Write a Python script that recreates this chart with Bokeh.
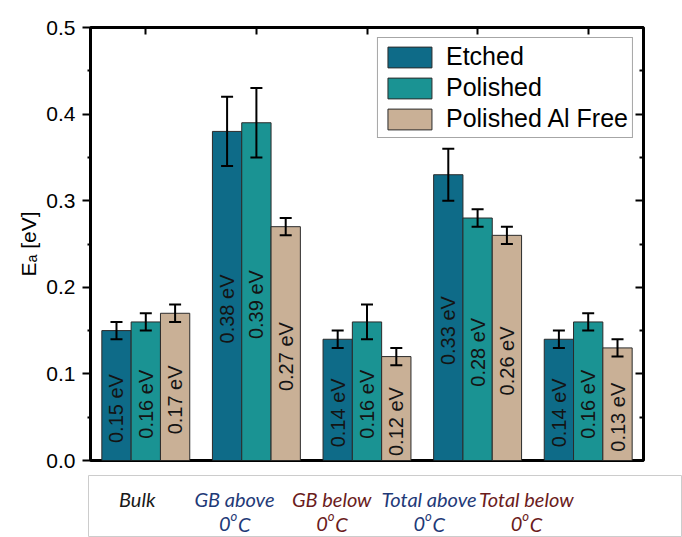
import numpy as np
from bokeh.plotting import figure
from bokeh.models import (ColumnDataSource, Range1d, FixedTicker, LinearAxis,
                          Whisker, TeeHead, CustomJSTickFormatter)
from bokeh.layouts import column
from bokeh.core.properties import value
from bokeh.transform import dodge
from bokeh.embed import file_html
from bokeh.resources import INLINE

# ---------------- data ----------------
categories = ["Bulk", "GB above", "GB below", "Total above", "Total below"]
cat_line2 = ["", "0", "0", "0", "0"]          # followed by superscript "o" and "C"
cat_colors = ["#1a1a1a", "#1f3a78", "#6b1c1c", "#1f3a78", "#6b1c1c"]

series = ["Etched", "Polished", "Polished Al Free"]
etched = [0.15, 0.38, 0.14, 0.33, 0.14]
etched_err = [0.01, 0.04, 0.01, 0.03, 0.01]
polished = [0.16, 0.39, 0.16, 0.28, 0.16]
polished_err = [0.01, 0.04, 0.02, 0.01, 0.01]
alfree = [0.17, 0.27, 0.12, 0.26, 0.13]
alfree_err = [0.01, 0.01, 0.01, 0.01, 0.01]

y_ticks = [0.0, 0.1, 0.2, 0.3, 0.4, 0.5]
y_minor = [0.05, 0.15, 0.25, 0.35, 0.45]
y_label = "E\u2090 [eV]"

colors = ["#0e6b88", "#1a9393", "#c9b096"]
FONT = "Liberation Sans"
blank = CustomJSTickFormatter(code="return ''")

# ---------------- main figure ----------------
xc = np.arange(len(categories)) + 0.5
p = figure(width=682, height=475, x_range=Range1d(0, len(categories)),
           y_range=Range1d(0, 0.5), output_backend="svg", toolbar_location=None,
           x_axis_location="above",
           min_border_left=90, min_border_right=39, min_border_top=27,
           min_border_bottom=15)
p.frame_align = False
p.xgrid.visible = False
p.ygrid.visible = False
p.outline_line_color = "black"
p.outline_line_width = 3
p.background_fill_color = "white"
p.border_fill_color = "white"

# top axis: inward ticks at category centres
xa = p.xaxis[0]
xa.ticker = FixedTicker(ticks=list(xc))
xa.formatter = blank
xa.major_tick_in = 7
xa.major_tick_out = 0
xa.major_tick_line_width = 2
xa.minor_tick_line_color = None
xa.axis_line_color = None
xa.major_label_standoff = 0

# left axis
ya = p.yaxis[0]
ya.ticker = FixedTicker(ticks=y_ticks, minor_ticks=y_minor)
ya.major_label_overrides = {t: f"{t:.1f}" for t in y_ticks}
ya.major_label_text_font = FONT
ya.major_label_text_font_size = "21px"
ya.major_label_text_color = "black"
ya.major_tick_in = 0
ya.major_tick_out = 8
ya.minor_tick_in = 0
ya.minor_tick_out = 3
ya.major_tick_line_width = 2
ya.minor_tick_line_width = 2
ya.axis_line_color = None
ya.major_label_standoff = 7
ya.axis_label = y_label
ya.axis_label_text_font = FONT
ya.axis_label_text_font_style = "normal"
ya.axis_label_text_font_size = "21px"
ya.axis_label_text_color = "black"
ya.axis_label_standoff = 3

# right axis (ticks only)
ra = LinearAxis(ticker=FixedTicker(ticks=y_ticks, minor_ticks=y_minor), formatter=blank)
ra.major_tick_in = 8
ra.major_tick_out = 0
ra.minor_tick_in = 4
ra.minor_tick_out = 0
ra.major_tick_line_width = 2
ra.minor_tick_line_width = 2
ra.axis_line_color = None
ra.major_label_standoff = 0
p.add_layout(ra, "right")

src = ColumnDataSource(dict(
    x=xc,
    etched=etched, polished=polished, alfree=alfree,
    e_up=np.array(etched) + np.array(etched_err), e_lo=np.array(etched) - np.array(etched_err),
    p_up=np.array(polished) + np.array(polished_err), p_lo=np.array(polished) - np.array(polished_err),
    a_up=np.array(alfree) + np.array(alfree_err), a_lo=np.array(alfree) - np.array(alfree_err),
    e_half=np.array(etched) / 2, p_half=np.array(polished) / 2, a_half=np.array(alfree) / 2,
    e_txt=[f"{v:.2f} eV" for v in etched],
    p_txt=[f"{v:.2f} eV" for v in polished],
    a_txt=[f"{v:.2f} eV" for v in alfree],
))

W = 0.265
offsets = [-W, 0.0, W]
keys = [("etched", "e"), ("polished", "p"), ("alfree", "a")]
for (col, k), off, c, name in zip(keys, offsets, colors, series):
    p.vbar(x=dodge("x", off), top=col, width=W, bottom=0, source=src,
           fill_color=c, line_color="#2b2b2b", line_width=1, legend_label=name)
    p.text(x=dodge("x", off), y=f"{k}_half", text=f"{k}_txt", source=src,
           angle=np.pi / 2, text_align="center", text_baseline="middle",
           y_offset=13, text_font=value(FONT), text_font_size="20px",
           text_color="#141414")
    w = Whisker(source=src, base=dodge("x", off), upper=f"{k}_up", lower=f"{k}_lo",
                line_color="black", line_width=2, level="annotation",
                upper_head=TeeHead(size=12, line_width=2, line_color="black"),
                lower_head=TeeHead(size=12, line_width=2, line_color="black"))
    p.add_layout(w)

lg = p.legend[0]
lg.location = "top_right"
lg.margin = 10
lg.padding = 4
lg.spacing = 2
lg.glyph_width = 55
lg.glyph_height = 26
lg.label_height = 26
lg.label_standoff = 9
lg.label_text_font = FONT
lg.label_text_font_size = "25px"
lg.label_text_color = "black"
lg.border_line_color = "#4d4d4d"
lg.border_line_width = 1.5
lg.background_fill_alpha = 1.0

# ---------------- category label strip ----------------
pitch = 97.3
left = 88
p2 = figure(width=682, height=62, x_range=Range1d(0, (682 - left) / pitch),
            y_range=Range1d(0, 62), output_backend="svg", toolbar_location=None,
            x_axis_type=None, y_axis_type=None,
            min_border_left=left, min_border_right=0, min_border_top=0,
            min_border_bottom=0)
p2.frame_align = False
p2.outline_line_color = "#cccccc"
p2.outline_line_width = 1
p2.xgrid.visible = False
p2.ygrid.visible = False

src2 = ColumnDataSource(dict(x=xc, l1=categories, col=cat_colors))
has2 = [i for i, s in enumerate(cat_line2) if s]
src3 = ColumnDataSource(dict(x=[xc[i] for i in has2], l2=[cat_line2[i] for i in has2],
                             col=[cat_colors[i] for i in has2],
                             sup=["o"] * len(has2), cc=["C"] * len(has2)))
common = dict(text_color="col", text_font=value("Lato"),
              text_font_style="italic", text_baseline="alphabetic")
p2.text(x="x", y=39, text="l1", source=src2, text_align="center", text_font_size="20px", **common)
p2.text(x="x", y=14, text="l2", source=src3, text_align="left", x_offset=-15.5, text_font_size="20px", **common)
p2.text(x="x", y=22, text="sup", source=src3, text_align="left", x_offset=-4, text_font_size="13px", **common)
p2.text(x="x", y=14, text="cc", source=src3, text_align="left", x_offset=3.5, text_font_size="20px", **common)

layout = column(p, p2, spacing=0)
open("out.html", "w").write(file_html(layout, INLINE))
